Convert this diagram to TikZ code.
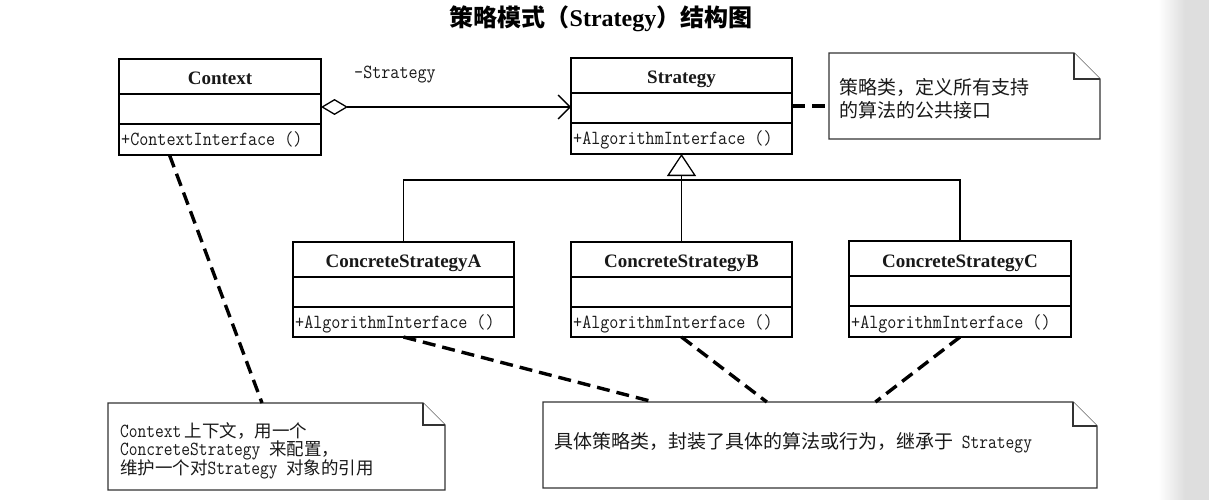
\documentclass[tikz,border=0pt]{standalone}
\usepackage{fontspec}
\setmainfont{Liberation Serif}
\newfontfamily\cjk{Noto Sans CJK SC}
\newfontfamily\monoA{Latin Modern Mono}[FakeStretch=0.88]
\newfontfamily\monoB{Latin Modern Mono}[FakeStretch=0.85]
\usetikzlibrary{arrows.meta,calc}
\newcommand\zhtext[1]{{\cjk\fontsize{19}{19}\selectfont #1}}
\newcommand\zhsmall[1]{{\cjk\fontsize{17.5}{17.5}\selectfont #1}}
\newcommand\notefold[2]{%
  \draw[noteline] (#1.north west) -- ([xshift=-#2pt]#1.north east) -- ([yshift=-#2pt]#1.north east) -- (#1.south east) -- (#1.south west) -- cycle;
  \draw[noteline] ([xshift=-#2pt]#1.north east) |- ([yshift=-#2pt]#1.north east);}
\newcommand\compartments[1]{%
  \draw[boxline] ($(#1.north west)+(0,35)$) -- ($(#1.north east)+(0,35)$);
  \draw[boxline] ($(#1.north west)+(0,65)$) -- ($(#1.north east)+(0,65)$);}
\tikzset{
  classbox/.style={draw=black, line width=1.8pt, fill=white, inner sep=0pt, outer sep=0pt, anchor=north west},
  boxline/.style={draw=black, line width=1.8pt},
  notebg/.style={inner sep=0pt, outer sep=0pt, anchor=north west},
  noteline/.style={draw=black!80, line width=1.2pt, fill=white},
  cname/.style={font=\fontsize{19}{19}\selectfont\bfseries, anchor=base, inner sep=0pt, text=black!90},
  meth/.style={font=\fontsize{20}{20}\selectfont\monoA, anchor=base west, inner sep=0pt, text=black!90},
  ntext/.style={font=\fontsize{20}{20}\selectfont\monoB, anchor=west, inner sep=0pt, text=black!90},
  thinline/.style={draw=black, line width=1.2pt},
  notelink/.style={draw=black, line width=3.4pt, dash pattern=on 13pt off 7pt},
}
\begin{document}
\begin{tikzpicture}[x=1pt,y=-1pt]
\useasboundingbox (0,0) rectangle (1209,500);
\fill[white] (0,0) rectangle (1209,500);
\shade[left color=white, right color=black!13] (1158,0) rectangle (1185,500);
\fill[black!13] (1185,0) rectangle (1209,500);

% title
\node[font=\fontsize{24}{24}\selectfont\bfseries, inner sep=0pt] (title) at (601,19)
  {{\cjk 策略模式（}Strategy{\cjk ）结构图}};

% classes
\node[classbox, minimum width=202pt, minimum height=96pt] (ctx) at (119,59) {};
\compartments{ctx}
\node[cname] (ctxn) at ($(ctx.north)+(0,26)$) {Context};
\node[meth] (ctxm) at ($(ctx.north west)+(2,86)$) {+ContextInterface ()};

\node[classbox, minimum width=221pt, minimum height=96pt] (strat) at (571,58) {};
\compartments{strat}
\node[cname] (stratn) at ($(strat.north)+(0,26)$) {Strategy};
\node[meth] (stratm) at ($(strat.north west)+(2,86)$) {+AlgorithmInterface ()};

\node[classbox, minimum width=221pt, minimum height=95pt] (ca) at (293,242) {};
\compartments{ca}
\node[cname] (can) at ($(ca.north)+(0,25)$) {ConcreteStrategyA};
\node[meth] (cam) at ($(ca.north west)+(2,86)$) {+AlgorithmInterface ()};

\node[classbox, minimum width=221pt, minimum height=95pt] (cb) at (571,242) {};
\compartments{cb}
\node[cname] (cbn) at ($(cb.north)+(0,25)$) {ConcreteStrategyB};
\node[meth] (cbm) at ($(cb.north west)+(2,86)$) {+AlgorithmInterface ()};

\node[classbox, minimum width=222pt, minimum height=96pt] (cc) at (849,241) {};
\compartments{cc}
\node[cname] (ccn) at ($(cc.north)+(0,26)$) {ConcreteStrategyC};
\node[meth] (ccm) at ($(cc.north west)+(2,87)$) {+AlgorithmInterface ()};

% aggregation
\draw[thinline, {Diamond[open,length=27pt,width=16pt,line width=1.3pt]}-{Straight Barb[length=12pt,width=24pt,line width=1.3pt]}]
  (ctx.east) -- (ctx.east -| strat.west);
\node[font=\fontsize{20}{20}\selectfont\monoA, anchor=west, inner sep=0pt, text=black!90] (lbl) at (354,75) {-Strategy};

% inheritance
\coordinate (hub) at ($(strat.south)+(0,26)$);
\draw[thinline] (ca.north) |- (hub) -| (cc.north);
\draw[thinline, -{Triangle[open,length=22pt,width=29pt,line width=1.3pt]}] (cb.north) -- (strat.south);

% notes
\node[notebg, minimum width=271pt, minimum height=86pt] (n1) at (829,53) {};
\notefold{n1}{26}
\node[ntext] (n1a) at (839,87) {\zhtext{策略类，定义所有支持}};
\node[ntext] (n1b) at (839,110) {\zhtext{的算法的公共接口}};

\node[notebg, minimum width=337pt, minimum height=87pt] (n2) at (108,403) {};
\notefold{n2}{22}
\node[ntext] (n2a) at (120,431) {Context\,\zhsmall{上下文，用一个}};
\node[ntext] (n2b) at (120,450) {ConcreteStrategy \zhsmall{来配置，}};
\node[ntext] (n2c) at (120,469) {\zhsmall{维护一个对}Strategy \zhsmall{对象的引用}};

\node[notebg, minimum width=554pt, minimum height=86pt] (n3) at (543,402) {};
\notefold{n3}{24}
\node[ntext] (n3a) at (554,443) {\zhtext{具体策略类，封装了具体的算法或行为，继承于} Strategy};

% note links
\draw[notelink] (strat.east) -- (strat.east -| n1.west);
\draw[notelink] ($(ctx.south west)!0.25!(ctx.south east)$) -- ($(n2.north west)!0.457!(n2.north east)$);
\draw[notelink] (ca.south) -- ($(n3.north west)!0.2!(n3.north east)$);
\draw[notelink] (cb.south) -- ($(n3.north west)!0.404!(n3.north east)$);
\draw[notelink] (cc.south) -- ($(n3.north west)!0.6!(n3.north east)$);
\end{tikzpicture}
\end{document}
